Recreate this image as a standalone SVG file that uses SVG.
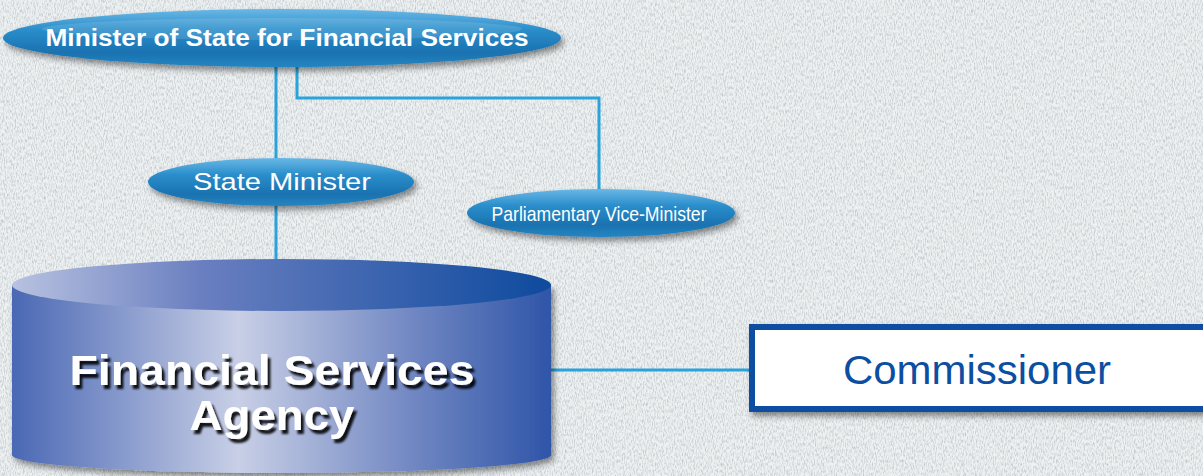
<svg xmlns="http://www.w3.org/2000/svg" width="1203" height="476" viewBox="0 0 1203 476">
<defs>
<filter id="tex" x="0" y="0" width="100%" height="100%">
<feTurbulence type="fractalNoise" baseFrequency="0.9 0.3" numOctaves="2" seed="3" result="n"/>
<feColorMatrix in="n" type="matrix" values="0 0 0 0 0.5  0 0 0 0 0.55  0 0 0 0 0.58  0 0 0 -2 1.2"/>
</filter>
<linearGradient id="pill" x1="0" y1="0" x2="0" y2="1">
<stop offset="0" stop-color="#6ab8e6"/>
<stop offset="0.35" stop-color="#2a8ecb"/>
<stop offset="0.75" stop-color="#1a72b0"/>
<stop offset="1" stop-color="#2585c2"/>
</linearGradient>
<linearGradient id="body" x1="0" y1="0" x2="1" y2="0">
<stop offset="0" stop-color="#4a68b4"/>
<stop offset="0.42" stop-color="#c8cfe6"/>
<stop offset="0.75" stop-color="#6f86c2"/>
<stop offset="1" stop-color="#2f55a8"/>
</linearGradient>
<linearGradient id="lid" x1="0" y1="0" x2="1" y2="0">
<stop offset="0" stop-color="#b8c2e0"/>
<stop offset="0.35" stop-color="#6a7fc0"/>
<stop offset="1" stop-color="#0e4a9e"/>
</linearGradient>
<filter id="sh" x="-10%" y="-20%" width="130%" height="160%">
<feGaussianBlur in="SourceAlpha" stdDeviation="3"/>
<feOffset dx="3" dy="4"/>
<feComponentTransfer><feFuncA type="linear" slope="0.45"/></feComponentTransfer>
<feMerge><feMergeNode/><feMergeNode in="SourceGraphic"/></feMerge>
</filter>
<filter id="tsh" x="-10%" y="-20%" width="130%" height="160%">
<feGaussianBlur in="SourceAlpha" stdDeviation="1.2"/>
<feOffset dx="3" dy="4"/>
<feComponentTransfer><feFuncA type="linear" slope="0.9"/></feComponentTransfer>
<feMerge><feMergeNode/><feMergeNode in="SourceGraphic"/></feMerge>
</filter>
</defs>
<style>
.conn{fill:none;stroke:#2aa3db;stroke-width:3}
.pilltext{fill:#ffffff;font-family:"Liberation Sans",Arial,sans-serif}
</style>
<rect width="1203" height="476" fill="#eef1f2"/>
<rect width="1203" height="476" filter="url(#tex)"/>

<g id="connectors">
<path class="conn" d="M276 66 V162"/>
<path class="conn" d="M276 204 V262"/>
<path class="conn" d="M297 66 V98 H599 V191"/>
<path class="conn" d="M520 370 H752"/>
</g>

<g id="minister">
<ellipse cx="282" cy="38" rx="279" ry="29" fill="url(#pill)" filter="url(#sh)"/>
<ellipse cx="282" cy="29" rx="240" ry="11" fill="#ffffff" opacity="0.12"/>
<text class="pilltext" x="287" y="46" text-anchor="middle" font-size="24" font-weight="bold" textLength="483" lengthAdjust="spacingAndGlyphs">Minister of State for Financial Services</text>
</g>

<g id="state-minister">
<ellipse cx="281" cy="182" rx="133" ry="24" fill="url(#pill)" filter="url(#sh)"/>
<text class="pilltext" x="282" y="190" text-anchor="middle" font-size="24" textLength="178" lengthAdjust="spacingAndGlyphs">State Minister</text>
</g>

<g id="vice-minister">
<ellipse cx="601" cy="213" rx="134" ry="24" fill="url(#pill)" filter="url(#sh)"/>
<text class="pilltext" x="599" y="221" text-anchor="middle" font-size="21" textLength="215" lengthAdjust="spacingAndGlyphs">Parliamentary Vice-Minister</text>
</g>

<g id="fsa">
<path d="M12 285 V455 A269.5 18 0 0 0 551 455 V285 Z" fill="url(#body)" filter="url(#sh)"/>
<ellipse cx="281.5" cy="285" rx="269.5" ry="26" fill="url(#lid)"/>
<g filter="url(#tsh)" fill="#ffffff" font-family="'Liberation Sans',Arial,sans-serif" font-weight="bold" font-size="42" text-anchor="middle">
<text x="272" y="385" textLength="405" lengthAdjust="spacingAndGlyphs">Financial Services</text>
<text x="272" y="430" textLength="165" lengthAdjust="spacingAndGlyphs">Agency</text>
</g>
</g>

<g id="commissioner">
<rect x="752" y="327" width="460" height="82" fill="#ffffff" stroke="#0b4ea2" stroke-width="6" filter="url(#sh)"/>
<text x="977" y="384" text-anchor="middle" font-family="'Liberation Sans',Arial,sans-serif" font-size="40" fill="#0b4ea2" textLength="268" lengthAdjust="spacingAndGlyphs">Commissioner</text>
</g>
</svg>
